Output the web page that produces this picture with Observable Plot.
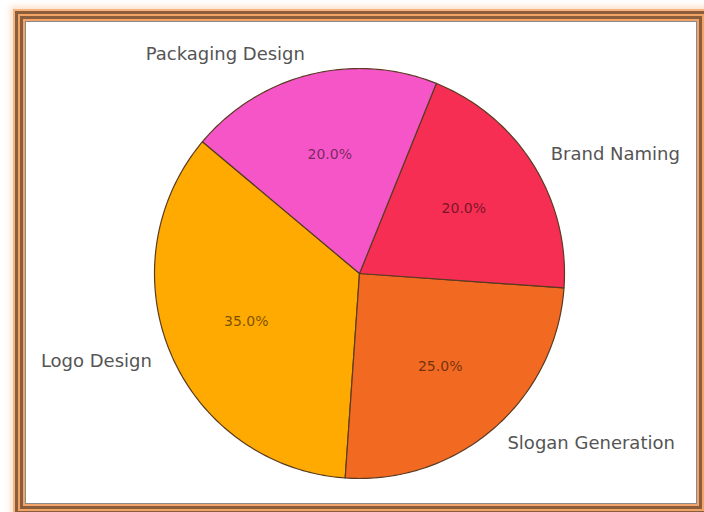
<!DOCTYPE html>
<html>
<head>
<meta charset="utf-8">
<script src="https://cdn.jsdelivr.net/npm/d3@7"></script>
<script src="https://cdn.jsdelivr.net/npm/@observablehq/plot@0.6"></script>
<style>
  html, body { margin: 0; padding: 0; background: #fff; overflow: hidden; }
  body { width: 704px; height: 512px; position: relative; }
  #frame {
    position: absolute; left: 26px; top: 22px; width: 670px; height: 481px;
    background: #fff;
    box-shadow:
      0 0 0 1px #8a8a8a,
      0 0 0 3px #f2a46a,
      0 0 0 6px #8b5d3b,
      0 0 0 8px #f0a468,
      0 0 0 11px #8b5d3b,
      0 0 0 13px #f6b47f,
      0 0 6px 16px #fde3cf;
  }
  #chart { position: absolute; left: 0; top: 0; }
  #chart svg { background: transparent; }
</style>
</head>
<body>
<div id="frame"></div>
<div id="chart"></div>
<script>
const categories = ["Logo Design", "Slogan Generation", "Brand Naming", "Packaging Design"];
const shares = [35, 25, 20, 20];
const colors = ["#FFAA00", "#F26922", "#F72E53", "#F655C8"];
const startAngle = 140;

// layout
const W = 704, H = 512, cx = 359, cy = 273, R = 205;

const total = d3.sum(shares);
const polys = [];
const pctLabels = [];
const nameLabels = [];
let a = startAngle;
categories.forEach((c, i) => {
  const a0 = a, a1 = a + shares[i] / total * 360;
  const rad = d => d * Math.PI / 180;
  polys.push({cat: c, x: 0, y: 0, o: 0});
  const n = Math.ceil(a1 - a0);
  for (let k = 0; k <= n; k++) {
    const t = rad(a0 + (a1 - a0) * k / n);
    polys.push({cat: c, x: Math.cos(t), y: Math.sin(t), o: k + 1});
  }
  const m = rad((a0 + a1) / 2);
  pctLabels.push({cat: c, x: 0.6 * Math.cos(m), y: 0.6 * Math.sin(m), text: (shares[i] / total * 100).toFixed(1) + "%"});
  nameLabels.push({cat: c, x: 1.1 * Math.cos(m), y: 1.1 * Math.sin(m), text: c});
  a = a1;
});

const chart = Plot.plot({
  width: W, height: H,
  margin: 0,
  x: {domain: [-cx / R, (W - cx) / R], axis: null},
  y: {domain: [-(H - cy) / R, cy / R], axis: null},
  color: {domain: categories, range: colors},
  style: {fontFamily: "DejaVu Sans", background: "transparent"},
  marks: [
    Plot.line(polys, {x: "x", y: "y", z: "cat", fill: "cat", stroke: "#5a3b22", strokeWidth: 1.2, curve: "linear-closed", strokeLinejoin: "round"}),
    Plot.text(pctLabels, {x: "x", y: "y", text: "text", fill: "#000", fillOpacity: 0.55, fontSize: 14}),
    Plot.text(nameLabels.filter(d => d.x >= 0), {x: "x", y: "y", text: "text", textAnchor: "start", fill: "#555", fontSize: 18}),
    Plot.text(nameLabels.filter(d => d.x < 0), {x: "x", y: "y", text: "text", textAnchor: "end", fill: "#555", fontSize: 18})
  ]
});
document.getElementById("chart").appendChild(chart);
</script>
</body>
</html>
